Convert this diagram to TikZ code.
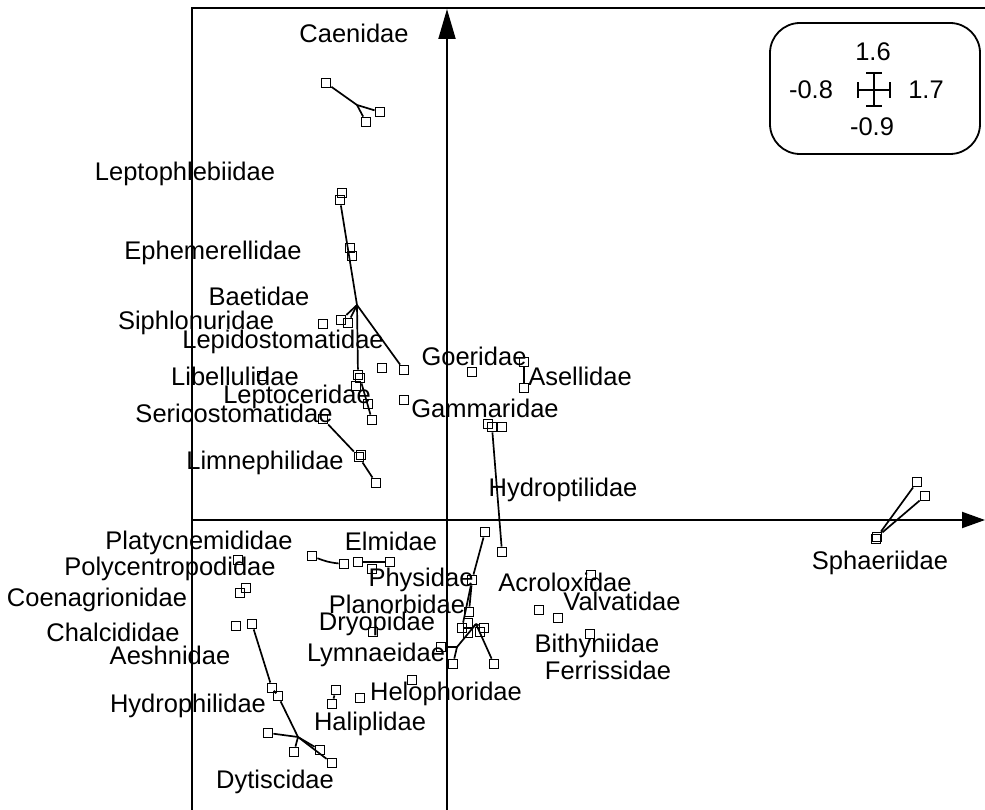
\documentclass[tikz,border=0pt]{standalone}
\usepackage{fontspec}
\setmainfont{Liberation Sans}
\usetikzlibrary{arrows.meta}
\begin{document}
\begin{tikzpicture}[x=1pt,y=-1pt,
  pt/.style={draw, rectangle, minimum size=9pt, inner sep=0pt, line width=1.8pt},
  lab/.style={font=\fontsize{25.5}{29}\selectfont, inner sep=0pt},
  conn/.style={line width=1.7pt},
  axis/.style={line width=2pt}]
\useasboundingbox (0,0) rectangle (985,810);
% frame and axes
\draw[axis] (192,810) -- (192,8) -- (985,8);
\coordinate (vb) at (447,810); \coordinate (vt) at (447,9);
\coordinate (hl) at (192,520); \coordinate (hr) at (985,520);
\draw[axis,-{Triangle[length=30pt,width=17pt]}] (vb) -- (vt);
\draw[axis,-{Triangle[length=23pt,width=16pt]}] (hl) -- (hr);
% legend
\draw[line width=1.8pt, rounded corners=30pt] (770,23) rectangle (980,154);
\node[lab] (t16) at (873,52) {1.6};
\node[lab] (t08) at (811,90) {-0.8};
\node[lab] (t17) at (926,90) {1.7};
\node[lab] (t09) at (872,127) {-0.9};
\coordinate (eL) at (858,90); \coordinate (eR) at (890,90);
\coordinate (eT) at (874,73); \coordinate (eB) at (874,106);
\draw[line width=1.6pt] (eL) -- (eR) (eT) -- (eB);
\draw[line width=1.6pt] ([yshift=-8pt]eL) -- ([yshift=8pt]eL) ([yshift=-8pt]eR) -- ([yshift=8pt]eR);
\draw[line width=1.6pt] ([xshift=-8pt]eT) -- ([xshift=8pt]eT) ([xshift=-8pt]eB) -- ([xshift=8pt]eB);
% labels
\node[lab] (Lcae) at (354,33) {Caenidae};
\node[lab] (Llep) at (185,174) {Leptophlebiidae};
\node[lab] (Leph) at (213,253) {Ephemerellidae};
\node[lab] (Lbae) at (259,296) {Baetidae};
\node[lab] (Lsip) at (196,323) {Siphlonuridae};
\node[lab] (Lpid) at (283,342) {Lepidostomatidae};
\node[lab] (Llib) at (235,376) {Libellulidae};
\node[lab] (Lpto) at (297,397) {Leptoceridae};
\node[lab] (Lser) at (234,413) {Sericostomatidae};
\node[lab] (Llim) at (265,463) {Limnephilidae};
\node[lab] (Lgoe) at (474,356) {Goeridae};
\node[lab] (Lase) at (580,376) {Asellidae};
\node[lab] (Lgam) at (485,408) {Gammaridae};
\node[lab] (Lhyd) at (563,490) {Hydroptilidae};
\node[lab] (Lsph) at (880,563) {Sphaeriidae};
\node[lab] (Lpla) at (199,543) {Platycnemididae};
\node[lab] (Lelm) at (391,541) {Elmidae};
\node[lab] (Lpol) at (170,569) {Polycentropodidae};
\node[lab] (Lcoe) at (97,600) {Coenagrionidae};
\node[lab] (Lcha) at (113,632) {Chalcididae};
\node[lab] (Laes) at (170,655) {Aeshnidae};
\node[lab] (Lphy) at (421,580) {Physidae};
\node[lab] (Lpln) at (397,604) {Planorbidae};
\node[lab] (Ldry) at (377,624) {Dryopidae};
\node[lab] (Llym) at (376,655) {Lymnaeidae};
\node[lab] (Lhel) at (446,694) {Helophoridae};
\node[lab] (Lhal) at (370,724) {Haliplidae};
\node[lab] (Lhyp) at (188,706) {Hydrophilidae};
\node[lab] (Ldyt) at (275,782) {Dytiscidae};
\node[lab] (Lacr) at (565,582) {Acroloxidae};
\node[lab] (Lval) at (622,601) {Valvatidae};
\node[lab] (Lbit) at (597,646) {Bithyniidae};
\node[lab] (Lfer) at (608,670) {Ferrissidae};
% points: upper left
\node[pt] (c1) at (326,83) {}; \node[pt] (c2) at (380,112) {}; \node[pt] (c3) at (366,122) {};
\coordinate (cj) at (357,105);
\node[pt] (l1) at (342,193) {}; \node[pt] (l2) at (340,200) {};
\node[pt] (e1) at (350,248) {}; \node[pt] (e2) at (352,256) {};
\coordinate (bj) at (357,305);
\node[pt] (b1) at (341,320) {}; \node[pt] (b2) at (348,323) {};
\node[pt] (s1) at (323,324) {};
\node[pt] (q1) at (382,368) {}; \node[pt] (q2) at (404,370) {};
\node[pt] (q3) at (358,375) {}; \node[pt] (q4) at (360,378) {};
\node[pt] (q5) at (356,386) {}; \node[pt] (q6) at (368,404) {}; \node[pt] (q7) at (372,420) {};
\node[pt] (g0) at (404,400) {};
\node[pt] (lb) at (262,376) {};
\node[pt] (sr) at (323,419) {};
\node[pt] (m1) at (359,457) {}; \node[pt] (m2) at (361,455) {}; \node[pt] (m3) at (376,483) {};
% upper right
\node[pt] (go) at (472,372) {};
\node[pt] (as1) at (524,362) {}; \node[pt] (as2) at (524,388) {};
\node[pt] (gm1) at (488,424) {}; \node[pt] (gm2) at (492,427) {}; \node[pt] (gm3) at (502,427) {};
\node[pt] (hy) at (502,552) {};
\node[pt] (hp) at (485,532) {};
\node[pt] (sp1) at (917,482) {}; \node[pt] (sp2) at (925,496) {};
\node[pt] (sp0) at (877,537) {}; \node[pt] (sp0b) at (876,539) {};
% lower left
\node[pt] (pl) at (238,560) {};
\node[pt] (pc1) at (246,588) {}; \node[pt] (pc2) at (240,593) {};
\node[pt] (ch) at (236,626) {}; \node[pt] (ae) at (252,624) {};
\node[pt] (el1) at (312,556) {}; \node[pt] (el2) at (344,564) {};
\node[pt] (el3) at (358,562) {}; \node[pt] (el4) at (372,569) {}; \node[pt] (el5) at (390,562) {};
\node[pt] (dr) at (373,632) {};
\node[pt] (hd1) at (272,688) {}; \node[pt] (hd2) at (278,696) {};
\coordinate (dj) at (298,737);
\node[pt] (dt1) at (268,733) {}; \node[pt] (dt2) at (294,752) {};
\node[pt] (dt3) at (320,750) {}; \node[pt] (dt4) at (332,763) {};
\node[pt] (ha1) at (336,690) {}; \node[pt] (ha2) at (332,704) {};
\node[pt] (he1) at (360,698) {}; \node[pt] (he2) at (412,680) {};
% lower right
\node[pt] (ph) at (472,580) {};
\node[pt] (pn1) at (469,612) {}; \node[pt] (pn2) at (468,623) {};
\node[pt] (pn3) at (462,628) {}; \node[pt] (pn4) at (468,633) {};
\node[pt] (pn5) at (484,628) {}; \node[pt] (pn6) at (480,632) {};
\node[pt] (ly1) at (441,647) {}; \node[pt] (ly2) at (453,664) {}; \node[pt] (ly3) at (494,664) {};
\coordinate (sj) at (476,624); \coordinate (lj) at (457,647);
\node[pt] (ac) at (591,575) {};
\node[pt] (va1) at (539,610) {}; \node[pt] (va2) at (558,618) {};
\node[pt] (bi) at (590,634) {};
% connectors
\draw[conn] (c1) -- (cj) -- (c2);
\draw[conn] (cj) -- (c3);
\draw[conn] (l2) -- (bj);
\draw[conn] (bj) -- (b1);
\draw[conn] (bj) -- (b2);
\draw[conn] (bj) -- (q3);
\draw[conn] (bj) -- (q2);
\draw[conn] (q4) -- (q7);
\draw[conn] (sr) -- (m1) -- (m3);
\draw[conn] (as1) -- (as2);
\draw[conn] (gm2) -- (hy);
\draw[conn] (hp) -- (ph);
\draw[conn] (sp0) -- (sp1);
\draw[conn] (sp0) -- (sp2);
\draw[conn] (el1) to[bend right=8] (el2);
\draw[conn] (el3) -- (el5);
\draw[conn] (ae) -- (hd1) -- (hd2) -- (dj);
\draw[conn] (dj) -- (dt1);
\draw[conn] (dj) -- (dt2);
\draw[conn] (dj) -- (dt3);
\draw[conn] (dj) -- (dt4);
\draw[conn] (ha1) -- (ha2);
\draw[conn] (ph) -- (pn3);
\draw[conn] (ph) -- (pn1);
\draw[conn] (sj) -- (lj) -- (ly1);
\draw[conn] (lj) -- (ly2);
\draw[conn] (sj) -- (ly3);
\draw[conn] (sj) -- (pn5);
\draw[conn] (sj) -- (pn4);
\end{tikzpicture}
\end{document}
